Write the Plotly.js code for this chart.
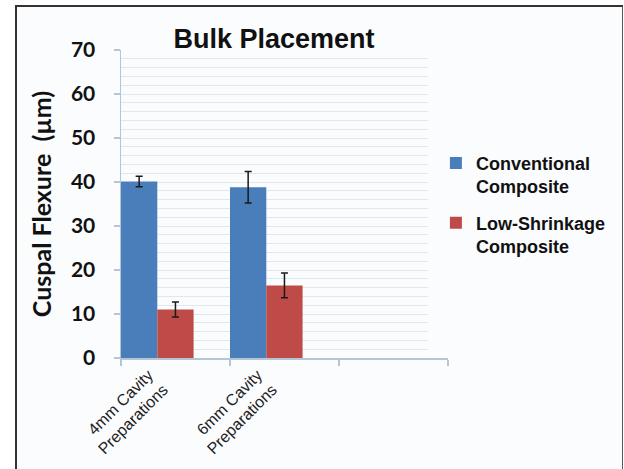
<!DOCTYPE html>
<html>
<head>
<meta charset="utf-8">
<script src="https://cdn.plot.ly/plotly-3.0.1.min.js"></script>
<style>
  html, body { margin: 0; padding: 0; background: #ffffff; }
  #wrap { position: relative; width: 624px; height: 469px; overflow: hidden; }
  #bg { position: absolute; left: 15px; top: 5px; width: 608px; height: 470px; background: #fbfcfe;
        border-left: 2px solid #333; border-top: 2px solid #333; border-right: 1px solid #555; box-sizing: border-box; }
  #chart { position: absolute; left: 0; top: 0; width: 624px; height: 469px; }
</style>
</head>
<body>
<div id="wrap">
  <div id="bg"></div>
  <div id="chart"></div>
</div>
<script>
// Data
const categories = ["4mm Cavity<br>Preparations", "6mm Cavity<br>Preparations", " "];
const conventional = [40.1, 38.8, null];
const conventionalErr = [1.2, 3.6, 0];
const lowShrinkage = [11.0, 16.5, null];
const lowShrinkageErr = [1.7, 2.8, 0];
const seriesNames = ["Conventional<br>Composite", "Low-Shrinkage<br>Composite"];
const yTicks = [0, 10, 20, 30, 40, 50, 60, 70];

const axisColor = "#b4c6d6";
const gridColor = "#dfe7ef";
const innerBg = "#fbfcfe";

const traces = [
  {
    type: "bar", name: seriesNames[0], x: categories, y: conventional,
    width: 0.333, offset: -0.5,
    marker: { color: "#4a7ebb", line: { width: 0 } },
    error_y: { type: "data", array: conventionalErr, visible: true, color: "#1a1a1a", thickness: 1.5, width: 3.5 },
    legendgroup: "a"
  },
  {
    type: "bar", name: seriesNames[1], x: categories, y: lowShrinkage,
    width: 0.333, offset: -0.167,
    marker: { color: "#be4b48", line: { width: 0 } },
    error_y: { type: "data", array: lowShrinkageErr, visible: true, color: "#1a1a1a", thickness: 1.5, width: 3.5 },
    legendgroup: "b"
  }
];

const layout = {
  width: 624, height: 469,
  paper_bgcolor: "rgba(0,0,0,0)",
  plot_bgcolor: "rgba(0,0,0,0)",
  margin: { l: 121, r: 176, t: 50, b: 111 },
  barmode: "overlay",
  title: {
    text: "Bulk Placement",
    font: { family: "Liberation Sans, Arial, sans-serif", size: 27, color: "#111", weight: "bold" },
    x: 274 / 624, xanchor: "center", xref: "container",
    y: 1 - 39 / 469, yanchor: "middle", yref: "container"
  },
  xaxis: {
    type: "category",
    categoryorder: "array", categoryarray: categories,
    range: [-0.5, 2.5],
    tickson: "boundaries",
    ticks: "outside", ticklen: 6, tickcolor: axisColor, tickwidth: 1.5,
    showline: true, linecolor: axisColor, linewidth: 1.5,
    showgrid: false,
    tickangle: -45,
    ticklabelshift: -27,
    tickfont: { family: "Liberation Sans, Arial, sans-serif", size: 16, color: "#222" },
    fixedrange: true
  },
  yaxis: {
    range: [0, 70],
    tickvals: yTicks,
    ticks: "outside", ticklen: 6, tickcolor: axisColor, tickwidth: 1.5,
    showline: true, linecolor: axisColor, linewidth: 1.5,
    showgrid: true, gridcolor: gridColor, gridwidth: 1,
    minor: { dtick: 2, showgrid: true, gridcolor: gridColor, gridwidth: 1, ticks: "" },
    zeroline: false,
    tickfont: { family: "Lato, Carlito, sans-serif", size: 21, color: "#111", weight: "bold" },
    ticklabelstandoff: 14,
    title: {
      text: "Cuspal Flexure  (µm)",
      font: { family: "Lato, Carlito, sans-serif", size: 25, color: "#111", weight: "bold" },
      standoff: 12
    },
    fixedrange: true
  },
  shapes: [
    // grid lines in the reference stop short of the right end of the x axis
    { type: "rect", xref: "paper", yref: "paper", x0: 0.939, x1: 1.0, y0: 0.006, y1: 1.01,
      fillcolor: innerBg, line: { width: 0 }, layer: "above" }
  ],
  showlegend: true,
  legend: {
    x: 0.963, xanchor: "left",
    y: 0.692, yanchor: "top",
    bgcolor: "rgba(0,0,0,0)",
    font: { family: "Liberation Sans, Arial, sans-serif", size: 18, color: "#111", weight: "bold" },
    traceorder: "grouped",
    tracegroupgap: 10,
    valign: "top"
  }
};

Plotly.newPlot("chart", traces, layout, { displayModeBar: false, staticPlot: true });
</script>
</body>
</html>
